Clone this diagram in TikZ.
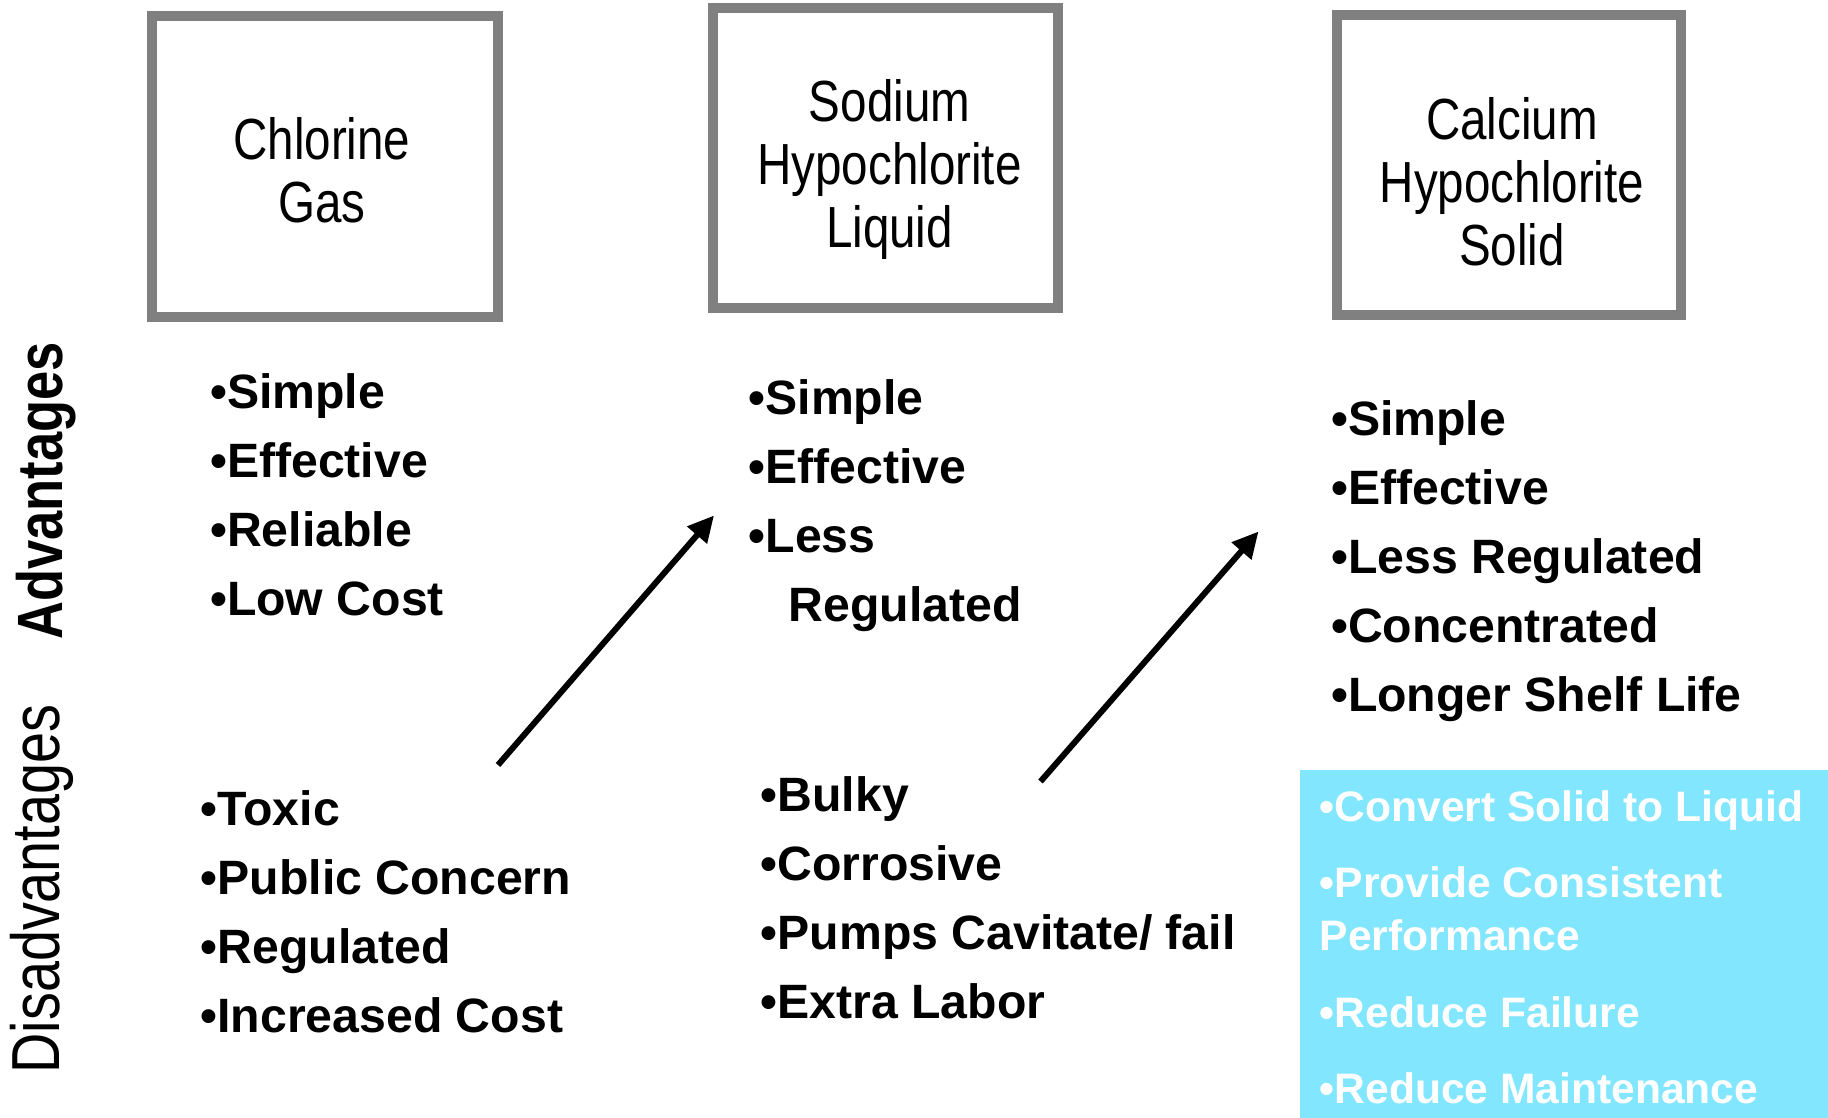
\documentclass[tikz,border=0pt]{standalone}
\usepackage{fontspec}
\setmainfont{Liberation Sans}
\newfontfamily\narrowfont[FakeStretch=0.82]{Liberation Sans}
\usetikzlibrary{arrows.meta}
\definecolor{boxgray}{HTML}{808080}
\definecolor{panelcyan}{RGB}{130,230,255}
\begin{document}
\begin{tikzpicture}[x=1pt,y=-1pt,
  srcbox/.style={draw=boxgray, line width=10pt, inner sep=0pt},
  title/.style={font=\narrowfont\fontsize{58}{63}\selectfont, align=center, anchor=base, inner sep=0pt},
  itemlist/.style={font=\bfseries\fontsize{48.2}{69}\selectfont, align=left, anchor=base west, inner sep=0pt},
  panellist/.style={font=\bfseries\fontsize{42.6}{53}\selectfont, align=left, anchor=base west, inner sep=0pt, text=white},
  sidelabel/.style={rotate=90, anchor=base, inner sep=0pt},
  arr/.style={line width=6pt, -{Triangle[length=26pt,width=25pt]}}
]
\useasboundingbox (0,0) rectangle (1828,1118);
\fill[white] (0,0) rectangle (1828,1118);

% source boxes
\node[srcbox, minimum width=346pt, minimum height=301pt] (box1) at (325,166.5) {};
\node[srcbox, minimum width=344.5pt, minimum height=300pt] (box2) at (885.25,158) {};
\node[srcbox, minimum width=344pt, minimum height=300pt] (box3) at (1509,165) {};

% titles (anchor = baseline of last line)
\node[title] (t1) at (321.8,222.2) {Chlorine\\Gas};
\node[title] (t2) at (889.5,247.9) {Sodium\\Hypochlorite\\Liquid};
\node[title] (t3) at (1512,265.4) {Calcium\\Hypochlorite\\Solid};

% side labels
\node[sidelabel, font=\narrowfont\bfseries\fontsize{64}{64}\selectfont] (adv) at (62,491) {Advantages};
\node[sidelabel, font=\narrowfont\fontsize{68}{68}\selectfont] (dis) at (59,889) {Disadvantages};

% advantages
\node[itemlist] (a1) at (210,615) {•Simple\\•Effective\\•Reliable\\•Low Cost};
\node[itemlist] (a2) at (748.5,621.7) {•Simple\\•Effective\\•Less\\\hspace*{40pt}Regulated};
\node[itemlist] (a3) at (1331,711.7) {•Simple\\•Effective\\•Less Regulated\\•Concentrated\\•Longer Shelf Life};

% disadvantages
\node[itemlist] (d1) at (200.5,1032) {•Toxic\\•Public Concern\\•Regulated\\•Increased Cost};
\node[itemlist] (d2) at (760.5,1018) {•Bulky\\•Corrosive\\•Pumps Cavitate/ fail\\•Extra Labor};

% panel
\node[fill=panelcyan, inner sep=0pt, minimum width=528pt, minimum height=348pt] (panel) at (1564,944) {};
\node[panellist] (p3) at (1319.5,1103) {•Convert Solid to Liquid\\[23pt]•Provide Consistent\\Performance\\[24pt]•Reduce Failure\\[23pt]•Reduce Maintenance};

% arrows
\coordinate (arr1s) at (498,765);
\coordinate (arr1e) at (714,515.5);
\coordinate (arr2s) at (1040.5,781.5);
\coordinate (arr2e) at (1258.5,531.5);
\draw[arr] (arr1s) -- (arr1e);
\draw[arr] (arr2s) -- (arr2e);
\end{tikzpicture}
\end{document}
